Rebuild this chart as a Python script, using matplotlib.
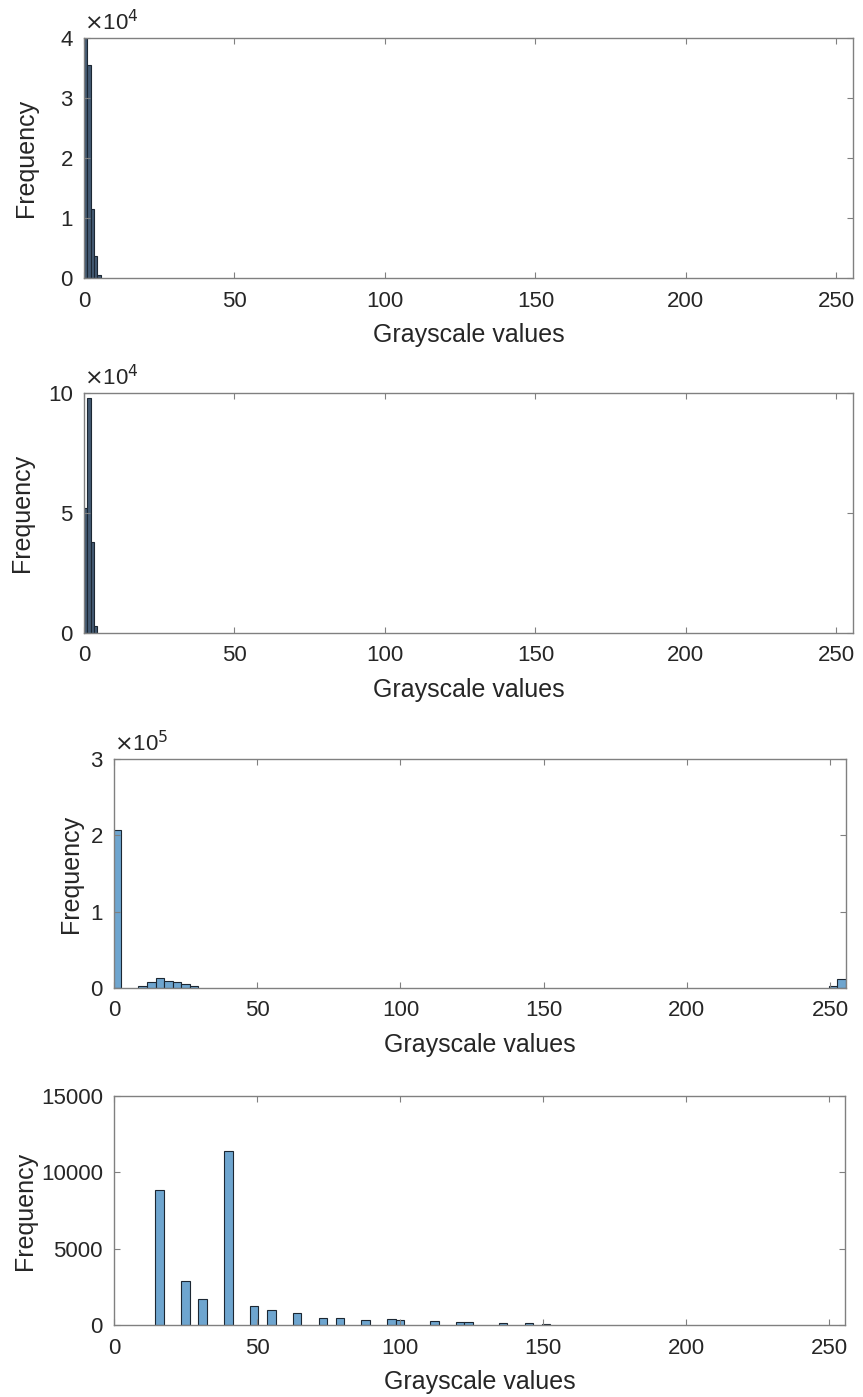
import numpy as np
import matplotlib
matplotlib.use("Agg")
import matplotlib.pyplot as plt
from matplotlib.ticker import FuncFormatter

plt.rcParams['font.family'] = ['Liberation Sans', 'DejaVu Sans']

# panel 1 : narrow histogram near zero (x10^4)
p1_centers = [0.55, 1.65, 2.75, 3.85, 4.95]
p1_counts = [40000, 35500, 11500, 3700, 500]

# panel 2 : narrow histogram near zero (x10^4)
p2_centers = [0.55, 1.65, 2.75, 3.85]
p2_counts = [52000, 98000, 38000, 3000]

# panel 3 : bins of width 3 (x10^5)
p3_centers = [1.0, 10, 13, 16, 19, 22, 25, 28, 251, 254]
p3_counts = [207000, 3000, 7400, 13100, 9600, 7400, 5200, 2200, 2000, 11400]

# panel 4 : bins of width 3
p4_centers = [16, 25, 31, 40, 49, 55, 64, 73, 79, 88, 97, 100, 112, 121, 124, 136, 145, 151]
p4_counts = [8870, 2860, 1720, 11420, 1220, 1000, 790, 470, 460, 350, 390, 350, 260, 200, 200, 160, 120, 60]

xticks = [0, 50, 100, 150, 200, 250]
face = '#6ea5cf'
dark_face = '#445a73'
edge = '#1c2733'
spine_col = '#808080'
text_col = '#262626'

fig = plt.figure(figsize=(8.63, 13.97), dpi=100)

panels = [
    # rect, centers, counts, width, ytop, yticks, scale, exponent, face, ylabel x
    ([0.0973, 0.801, 0.891, 0.1718], p1_centers, p1_counts, 1.1, 40000, [0, 1, 2, 3, 4], 1e4, 4, dark_face, -0.060),
    ([0.0973, 0.5469, 0.891, 0.1718], p2_centers, p2_counts, 1.1, 100000, [0, 5, 10], 1e4, 4, dark_face, -0.065),
    ([0.1321, 0.2928, 0.848, 0.1639], p3_centers, p3_counts, 3.0, 300000, [0, 1, 2, 3], 1e5, 5, face, -0.042),
    ([0.1321, 0.0515, 0.847, 0.1639], p4_centers, p4_counts, 3.0, 15000, [0, 5000, 10000, 15000], 1, None, face, -0.105),
]

for rect, centers, counts, width, ytop, yt, scale, expo, fc, ylx in panels:
    ax = fig.add_axes(rect)
    ax.bar(centers, counts, width=width, color=fc, edgecolor=edge, linewidth=0.8, align='center')
    ax.set_xlim(0, 255.5)
    ax.set_ylim(0, ytop)
    ax.set_xticks(xticks)
    ax.set_yticks([v * scale for v in yt])
    if expo is not None:
        ax.yaxis.set_major_formatter(FuncFormatter(lambda v, p, s=scale: '%d' % round(v / s)))
        ax.text(0.0, 1.012, r'$\times$10$^{%d}$' % expo, transform=ax.transAxes,
                ha='left', va='bottom', fontsize=16, color=text_col)
    ax.tick_params(direction='in', top=True, right=True, length=4, width=0.8,
                   colors=spine_col, labelcolor=text_col, labelsize=16)
    ax.tick_params(axis='x', pad=9)
    ax.tick_params(axis='y', pad=8)
    for s in ax.spines.values():
        s.set_color(spine_col)
        s.set_linewidth(1.0)
    ax.set_xlabel('Grayscale values', color=text_col, fontsize=18, labelpad=8)
    ax.set_ylabel('Frequency', color=text_col, fontsize=18)
    ax.yaxis.set_label_coords(ylx, 0.5)

fig.savefig('out.png', dpi=100)
